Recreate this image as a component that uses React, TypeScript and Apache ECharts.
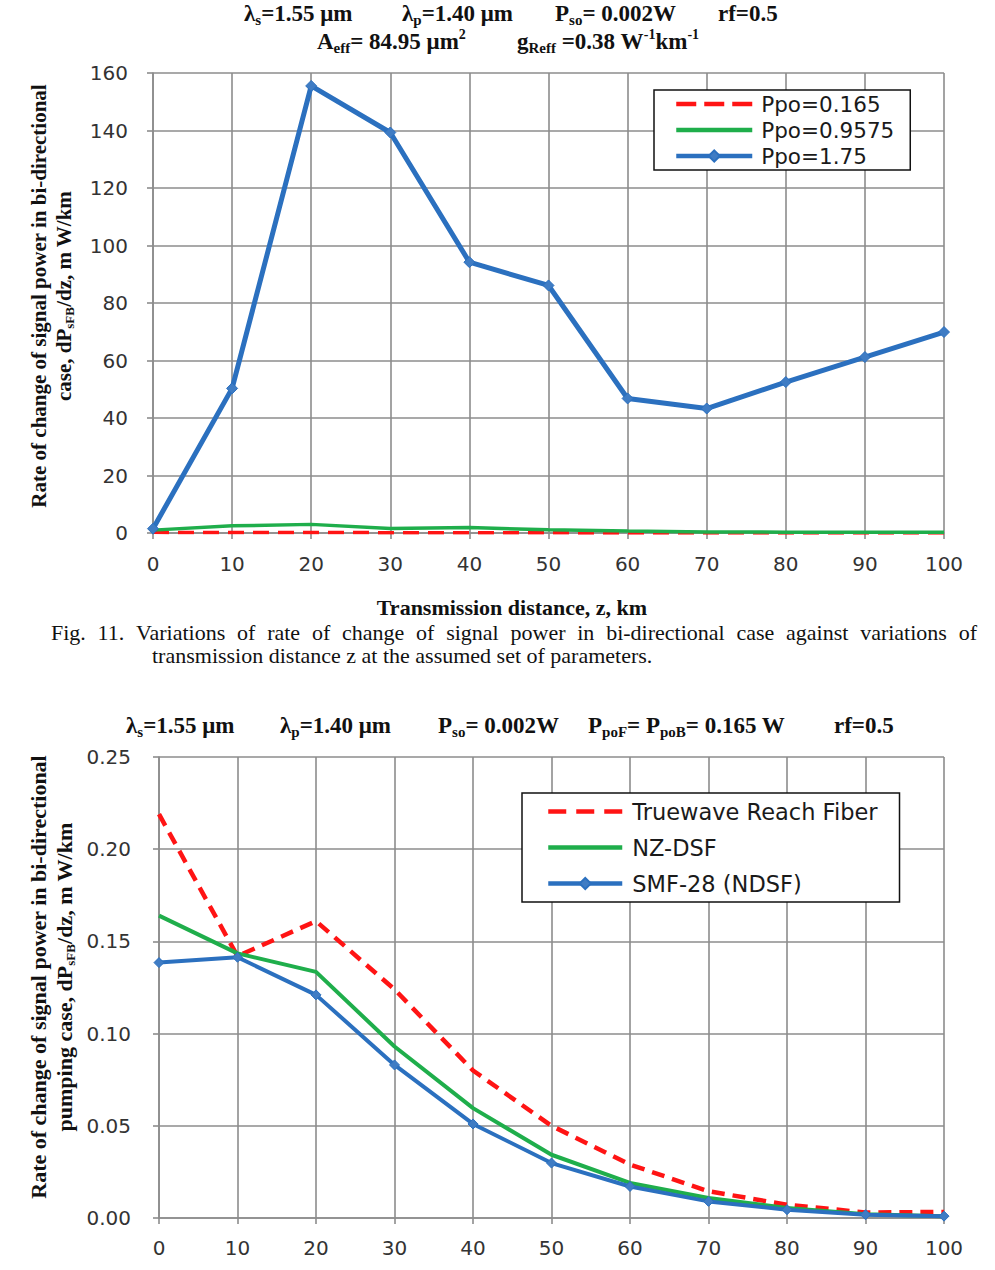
import React, { useEffect, useRef } from "react";
import * as echarts from "echarts";

// ---------- data ----------
const distanceKm = [0, 10, 20, 30, 40, 50, 60, 70, 80, 90, 100];

// Fig. 11 (top): dP_sFB/dz, mW/km
const ppo0165 = [0.22, 0.14, 0.16, 0.124, 0.08, 0.05, 0.029, 0.015, 0.008, 0.003, 0.003];
const ppo09575 = [1.0, 2.5, 3.0, 1.6, 1.9, 1.1, 0.7, 0.35, 0.3, 0.3, 0.3];
const ppo175 = [1.5, 50.3, 155.5, 139.3, 94.2, 86.1, 46.8, 43.3, 52.5, 61.2, 69.9];

// Bottom chart: dP_sFB/dz, mW/km for three fibers
const truewave = [0.219, 0.142, 0.161, 0.124, 0.08, 0.05, 0.029, 0.0145, 0.0072, 0.003, 0.0033];
const nzdsf = [0.164, 0.1435, 0.1335, 0.093, 0.0596, 0.0343, 0.019, 0.0108, 0.0054, 0.002, 0.001];
const smf28 = [0.1385, 0.1414, 0.121, 0.083, 0.051, 0.0298, 0.0171, 0.009, 0.0045, 0.0018, 0.001];

const topYTicks = { min: 0, max: 160, interval: 20 };
const botYTicks = { min: 0, max: 0.25, interval: 0.05 };

const topNames = ["Ppo=0.165", "Ppo=0.9575", "Ppo=1.75"];
const botNames = ["Truewave Reach Fiber", "NZ-DSF", "SMF-28 (NDSF)"];

const captionLine1 =
  "Fig. 11. Variations of rate of change of signal power in bi-directional case against variations of";
const captionLine2 = "transmission distance z at the assumed set of parameters.";

const pair = (ys: number[]) => distanceKm.map((x, i) => [x, ys[i]]);

const RED = "#ff1414";
const GREEN = "#1fae4b";
const BLUE = "#2b70bf";
const MARK = "#3f7cc4";
const GRID = "#8c8c8c";
const SERIF_NAME = "Liberation Serif";
const SERIF = "'Liberation Serif', 'Times New Roman', serif";
const SANS = "'DejaVu Sans', 'Liberation Sans', Arial, sans-serif";

const titleRich = {
  b: { fontFamily: SERIF, fontWeight: "bold", fontSize: 23, fill: "#111", lineHeight: 28 },
  sub: { fontFamily: SERIF, fontWeight: "bold", fontSize: 15, fill: "#111", lineHeight: 12, verticalAlign: "bottom" },
  sup: { fontFamily: SERIF, fontWeight: "bold", fontSize: 14, fill: "#111", lineHeight: 12, verticalAlign: "top" },
};

function tt(x: number, y: number, text: string) {
  return {
    type: "text",
    x,
    y,
    style: { text, rich: titleRich, align: "left", verticalAlign: "middle" },
  };
}

function justifiedLine(text: string, x0: number, x1: number, y: number, size: number) {
  const words = text.split(" ");
  const ctx = document.createElement("canvas").getContext("2d")!;
  ctx.font = `${size}px '${SERIF_NAME}'`;
  const widths = words.map((w) => ctx.measureText(w).width);
  const total = widths.reduce((a, b) => a + b, 0);
  const gap = (x1 - x0 - total) / (words.length - 1);
  let x = x0;
  return words.map((w, i) => {
    const el = {
      type: "text",
      x,
      y,
      style: { text: w, fontFamily: SERIF, fontSize: size, fill: "#111", align: "left", verticalAlign: "middle" },
    };
    x += widths[i] + gap;
    return el;
  });
}

export default function App() {
  const ref = useRef<HTMLDivElement>(null);

  useEffect(() => {
    document.body.style.margin = "0";
    const chart = echarts.init(ref.current!, undefined, { renderer: "svg" });

    const axisLabel = { fontFamily: SANS, fontSize: 20, color: "#333" };
    const splitLine = { show: true, lineStyle: { color: GRID, width: 1.6 } };
    const axisLine = { show: true, onZero: false, lineStyle: { color: GRID, width: 1.6 } };
    const axisTick = { show: true, length: 6, lineStyle: { color: GRID, width: 1.6 } };

    const yLabelRichTop = {
      b: { fontFamily: SERIF, fontWeight: "bold", fontSize: 21, fill: "#111", lineHeight: 25 },
      sub: { fontFamily: SERIF, fontWeight: "bold", fontSize: 13, fill: "#111", lineHeight: 10, verticalAlign: "bottom" },
    };
    const yLabelRichBot = {
      b: { fontFamily: SERIF, fontWeight: "bold", fontSize: 22, fill: "#111", lineHeight: 26 },
      sub: { fontFamily: SERIF, fontWeight: "bold", fontSize: 13, fill: "#111", lineHeight: 10, verticalAlign: "bottom" },
    };

    const legendItem = (name: string, marker: boolean, dash?: number[]) => ({
      name,
      itemStyle: marker ? {} : { opacity: 0 },
      lineStyle: dash ? { width: 4.5, type: dash } : { width: 4.5 },
    });

    const option: any = {
      animation: false,
      backgroundColor: "#fff",
      grid: [
        { left: 153, top: 73, width: 791, height: 460 },
        { left: 159, top: 757, width: 785, height: 461 },
      ],
      xAxis: [0, 1].map((g) => ({
        type: "value",
        gridIndex: g,
        min: 0,
        max: 100,
        interval: 10,
        axisLine,
        axisTick,
        splitLine,
        axisLabel: { ...axisLabel, margin: g === 0 ? 21 : 20 },
      })),
      yAxis: [
        {
          type: "value",
          gridIndex: 0,
          ...topYTicks,
          axisLine,
          axisTick,
          splitLine,
          axisLabel: { ...axisLabel, margin: 25 },
        },
        {
          type: "value",
          gridIndex: 1,
          ...botYTicks,
          axisLine,
          axisTick,
          splitLine,
          axisLabel: { ...axisLabel, margin: 28, formatter: (v: number) => v.toFixed(2) },
        },
      ],
      legend: [
        {
          data: [
            legendItem(topNames[0], false, [20, 8]),
            legendItem(topNames[1], false),
            legendItem(topNames[2], true),
          ],
          orient: "vertical",
          left: 654,
          top: 90,
          itemWidth: 76,
          itemHeight: 14,
          itemGap: 4,
          padding: [3, 16, 3, 20],
          borderColor: "#111",
          borderWidth: 1.5,
          backgroundColor: "#fff",
          textStyle: { fontFamily: SANS, fontSize: 21.5, color: "#1a1a1a", padding: [0, 0, 0, 4] },
        },
        {
          data: [
            legendItem(botNames[0], false, [18, 10]),
            legendItem(botNames[1], false),
            legendItem(botNames[2], true),
          ],
          orient: "vertical",
          left: 522,
          top: 793,
          itemWidth: 74,
          itemHeight: 14,
          itemGap: 13,
          padding: [7, 22, 7, 24],
          borderColor: "#111",
          borderWidth: 1.5,
          backgroundColor: "#fff",
          textStyle: { fontFamily: SANS, fontSize: 22.5, color: "#1a1a1a", padding: [0, 0, 0, 5] },
        },
      ],
      series: [
        {
          name: topNames[0],
          type: "line",
          xAxisIndex: 0,
          yAxisIndex: 0,
          data: pair(ppo0165),
          symbol: "none",
          lineStyle: { color: RED, width: 3.5, type: [16, 9] },
          itemStyle: { color: RED },
        },
        {
          name: topNames[1],
          type: "line",
          xAxisIndex: 0,
          yAxisIndex: 0,
          data: pair(ppo09575),
          symbol: "none",
          lineStyle: { color: GREEN, width: 3.5 },
          itemStyle: { color: GREEN },
        },
        {
          name: topNames[2],
          type: "line",
          xAxisIndex: 0,
          yAxisIndex: 0,
          data: pair(ppo175),
          symbol: "diamond",
          symbolSize: 11,
          lineStyle: { color: BLUE, width: 5 },
          itemStyle: { color: MARK, borderColor: BLUE, borderWidth: 1 },
        },
        {
          name: botNames[0],
          type: "line",
          xAxisIndex: 1,
          yAxisIndex: 1,
          data: pair(truewave),
          symbol: "none",
          lineStyle: { color: RED, width: 4.5, type: [13, 8] },
          itemStyle: { color: RED },
        },
        {
          name: botNames[1],
          type: "line",
          xAxisIndex: 1,
          yAxisIndex: 1,
          data: pair(nzdsf),
          symbol: "none",
          lineStyle: { color: GREEN, width: 4 },
          itemStyle: { color: GREEN },
        },
        {
          name: botNames[2],
          type: "line",
          xAxisIndex: 1,
          yAxisIndex: 1,
          data: pair(smf28),
          symbol: "diamond",
          symbolSize: 10,
          lineStyle: { color: BLUE, width: 4 },
          itemStyle: { color: MARK, borderColor: BLUE, borderWidth: 1 },
        },
      ],
      graphic: [
        // top title
        tt(244, 13, "{b|λ}{sub|s}{b|=1.55 μm}"),
        tt(402, 13, "{b|λ}{sub|p}{b|=1.40 μm}"),
        tt(555, 13, "{b|P}{sub|so}{b|= 0.002W}"),
        tt(718, 13, "{b|rf=0.5}"),
        tt(317, 41, "{b|A}{sub|eff}{b|= 84.95 μm}{sup|2}"),
        tt(517, 41, "{b|g}{sub|Reff}{b| =0.38 W}{sup|-1}{b|km}{sup|-1}"),
        // top y-axis title
        {
          type: "text",
          x: 51,
          y: 296,
          rotation: Math.PI / 2,
          style: {
            text: "{b|Rate of change of signal power in bi-directional}\n{b|case, dP}{sub|sFB}{b|/dz, m W/km}",
            rich: yLabelRichTop,
            align: "center",
            verticalAlign: "middle",
          },
        },
        // x-axis title
        {
          type: "text",
          x: 512,
          y: 607,
          style: {
            text: "Transmission distance, z, km",
            fontFamily: SERIF,
            fontWeight: "bold",
            fontSize: 22,
            fill: "#111",
            align: "center",
            verticalAlign: "middle",
          },
        },
        // caption
        ...justifiedLine(captionLine1, 51, 977, 632, 22),
        {
          type: "text",
          x: 152,
          y: 655,
          style: {
            text: captionLine2,
            fontFamily: SERIF,
            fontSize: 22,
            fill: "#111",
            align: "left",
            verticalAlign: "middle",
          },
        },
        // bottom title
        tt(126, 725, "{b|λ}{sub|s}{b|=1.55 μm}"),
        tt(280, 725, "{b|λ}{sub|p}{b|=1.40 μm}"),
        tt(438, 725, "{b|P}{sub|so}{b|= 0.002W}"),
        tt(588, 725, "{b|P}{sub|poF}{b|= P}{sub|poB}{b|= 0.165 W}"),
        tt(834, 725, "{b|rf=0.5}"),
        // bottom y-axis title
        {
          type: "text",
          x: 51,
          y: 977,
          rotation: Math.PI / 2,
          style: {
            text: "{b|Rate of change of signal power in bi-directional}\n{b|pumping case, dP}{sub|sFB}{b|/dz, m W/km}",
            rich: yLabelRichBot,
            align: "center",
            verticalAlign: "middle",
          },
        },
      ],
    };

    chart.setOption(option);
    return () => chart.dispose();
  }, []);

  return (
    <div
      ref={ref}
      style={{ position: "absolute", left: 0, top: 0, width: 995, height: 1270, background: "#fff" }}
    />
  );
}
